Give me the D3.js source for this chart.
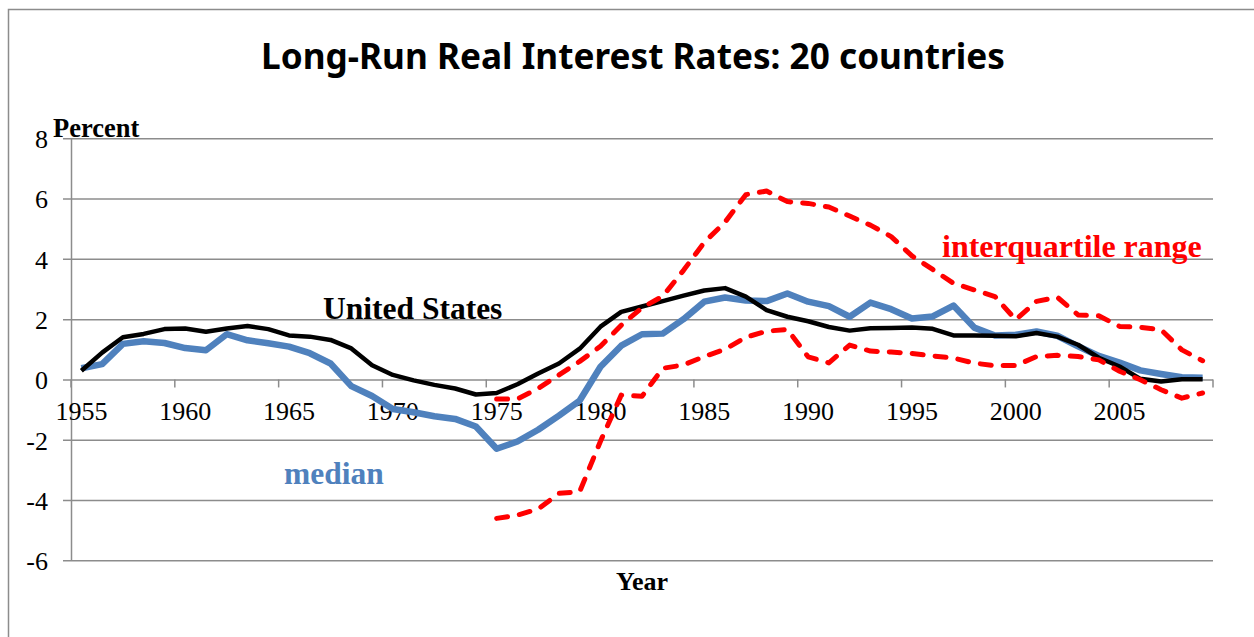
<!DOCTYPE html>
<html>
<head>
<meta charset="utf-8">
<script src="https://cdn.jsdelivr.net/npm/d3@7"></script>
<style>
  body { margin: 0; background: #fff; }
  svg { display: block; }
</style>
</head>
<body>
<div id="visbox"><svg width="1254" height="637"></svg></div>
<script>
const years = d3.range(1955, 2010);
const yTicks = [-6, -4, -2, 0, 2, 4, 6, 8];
const xLabelYears = [1955, 1960, 1965, 1970, 1975, 1980, 1985, 1990, 1995, 2000, 2005];

const unitedStates = [
  0.29, 0.89, 1.40, 1.51, 1.67, 1.69, 1.58, 1.69, 1.77, 1.67,
  1.46, 1.42, 1.31, 1.03, 0.47, 0.15, -0.03, -0.18, -0.30, -0.50,
  -0.45, -0.16, 0.20, 0.53, 1.02, 1.75, 2.24, 2.42, 2.60, 2.78,
  2.95, 3.03, 2.75, 2.30, 2.08, 1.93, 1.74, 1.62, 1.70, 1.71,
  1.72, 1.68, 1.46, 1.46, 1.45, 1.43, 1.54, 1.42, 1.15, 0.72,
  0.43, 0.02, -0.07, 0.01, 0.01
];

const median = [
  0.37, 0.51, 1.18, 1.27, 1.21, 1.04, 0.97, 1.50, 1.30, 1.20,
  1.09, 0.87, 0.53, -0.22, -0.55, -0.98, -1.09, -1.22, -1.31, -1.56,
  -2.30, -2.06, -1.67, -1.20, -0.70, 0.42, 1.12, 1.50, 1.52, 2.00,
  2.58, 2.72, 2.62, 2.60, 2.85, 2.58, 2.43, 2.08, 2.55, 2.33,
  2.02, 2.09, 2.45, 1.72, 1.46, 1.48, 1.59, 1.45, 1.10, 0.78,
  0.56, 0.30, 0.18, 0.07, 0.06
];

// quartiles only start in 1975
const upperQuartile = [
  null, null, null, null, null, null, null, null, null, null,
  null, null, null, null, null, null, null, null, null, null,
  -0.65, -0.65, -0.30, 0.15, 0.60, 1.10, 1.80, 2.38, 2.76, 3.62,
  4.55, 5.22, 6.13, 6.25, 5.90, 5.84, 5.72, 5.42, 5.12, 4.74,
  4.10, 3.65, 3.19, 2.97, 2.75, 1.98, 2.59, 2.73, 2.14, 2.11,
  1.76, 1.73, 1.65, 0.98, 0.62
];

const lowerQuartile = [
  null, null, null, null, null, null, null, null, null, null,
  null, null, null, null, null, null, null, null, null, null,
  -4.61, -4.50, -4.30, -3.78, -3.72, -2.05, -0.52, -0.56, 0.37, 0.48,
  0.76, 1.00, 1.40, 1.60, 1.66, 0.75, 0.55, 1.14, 0.94, 0.91,
  0.86, 0.78, 0.71, 0.54, 0.46, 0.46, 0.76, 0.80, 0.76, 0.65,
  0.27, -0.01, -0.34, -0.62, -0.45
];

const margin = { top: 138.3, right: 41, bottom: 76.7, left: 71 };
const width = 1254, height = 637;
const gridColor = "#8c8c8c";
const serif = "'Liberation Serif', 'Times New Roman', serif";

const svg = d3.select("#visbox").select("svg");

// outer chart frame
svg.append("rect")
  .attr("x", 8.5).attr("y", 9.5)
  .attr("width", 1300).attr("height", 700)
  .attr("fill", "none")
  .attr("stroke", gridColor)
  .attr("stroke-width", 1.5);

const xScale = d3.scaleBand()
  .domain(years)
  .range([margin.left, width - margin.right])
  .padding(0);

const yScale = d3.scaleLinear()
  .domain([-6, 8])
  .range([height - margin.bottom, margin.top]);

const xc = yr => xScale(yr) + xScale.bandwidth() / 2;

// horizontal gridlines with left ticks
const yAxis = d3.axisLeft(yScale)
  .tickValues(yTicks)
  .tickSize(-(width - margin.right - margin.left))
  .tickSizeOuter(0)
  .tickFormat(d => String(d)); // plain hyphen, not the unicode minus

const yAxisGroup = svg.append("g")
  .attr("transform", `translate(${margin.left},0)`)
  .call(yAxis);
yAxisGroup.select(".domain").attr("stroke", gridColor).attr("stroke-width", 1.5);
yAxisGroup.selectAll(".tick line")
  .attr("stroke", gridColor)
  .attr("stroke-width", 1.5)
  .attr("x1", -8);
yAxisGroup.selectAll(".tick text")
  .style("font-family", serif)
  .style("font-size", "26px")
  .attr("fill", "#000")
  .attr("x", -23)
  .attr("dy", "0.36em");

// category axis sits on the zero line; ticks between every fifth category
const boundaries = d3.range(0, years.length + 1, 5).map(i => margin.left + i * xScale.bandwidth());
svg.append("g")
  .selectAll("line")
  .data(boundaries)
  .join("line")
  .attr("x1", d => d).attr("x2", d => d)
  .attr("y1", yScale(0)).attr("y2", yScale(0) + 8)
  .attr("stroke", gridColor)
  .attr("stroke-width", 1.5);

svg.append("g")
  .selectAll("text")
  .data(xLabelYears)
  .join("text")
  .attr("x", d => xc(d))
  .attr("y", yScale(0) + 41)
  .attr("text-anchor", "middle")
  .style("font-family", serif)
  .style("font-size", "26px")
  .text(d => d);

// series
const line = d3.line()
  .defined(d => d.value !== null)
  .x(d => xc(d.year))
  .y(d => yScale(d.value));

const toPoints = arr => years.map((year, i) => ({ year, value: arr[i] }));

svg.append("path")
  .datum(toPoints(median))
  .attr("d", line)
  .attr("fill", "none")
  .attr("stroke", "#4f81bd")
  .attr("stroke-width", 6.5)
  .attr("stroke-linejoin", "round");

svg.append("path")
  .datum(toPoints(unitedStates))
  .attr("d", line)
  .attr("fill", "none")
  .attr("stroke", "#000")
  .attr("stroke-width", 4.5)
  .attr("stroke-linejoin", "round");

[upperQuartile, lowerQuartile].forEach(series => {
  svg.append("path")
    .datum(toPoints(series))
    .attr("d", line)
    .attr("fill", "none")
    .attr("stroke", "#ff0000")
    .attr("stroke-width", 5)
    .attr("stroke-dasharray", "11,12")
    .attr("stroke-linecap", "round")
    .attr("stroke-linejoin", "round");
});

// titles and labels
svg.append("text")
  .attr("x", 633).attr("y", 69)
  .attr("text-anchor", "middle")
  .attr("textLength", 744)
  .attr("lengthAdjust", "spacingAndGlyphs")
  .style("font-family", "'Noto Sans', 'Open Sans', sans-serif")
  .style("font-weight", "bold")
  .style("font-size", "35px")
  .text("Long-Run Real Interest Rates: 20 countries");

svg.append("text")
  .attr("x", 53).attr("y", 137)
  .style("font-family", serif)
  .style("font-weight", "bold")
  .style("font-size", "26.5px")
  .text("Percent");

svg.append("text")
  .attr("x", 642).attr("y", 590)
  .attr("text-anchor", "middle")
  .style("font-family", serif)
  .style("font-weight", "bold")
  .style("font-size", "26px")
  .text("Year");

svg.append("text")
  .attr("x", 323).attr("y", 319)
  .style("font-family", serif)
  .style("font-weight", "bold")
  .style("font-size", "31.5px")
  .text("United States");

svg.append("text")
  .attr("x", 284).attr("y", 484)
  .attr("fill", "#4f81bd")
  .style("font-family", serif)
  .style("font-weight", "bold")
  .style("font-size", "31.5px")
  .text("median");

svg.append("text")
  .attr("x", 942).attr("y", 257)
  .attr("fill", "#ff0000")
  .style("font-family", serif)
  .style("font-weight", "bold")
  .style("font-size", "32px")
  .text("interquartile range");
</script>
</body>
</html>
